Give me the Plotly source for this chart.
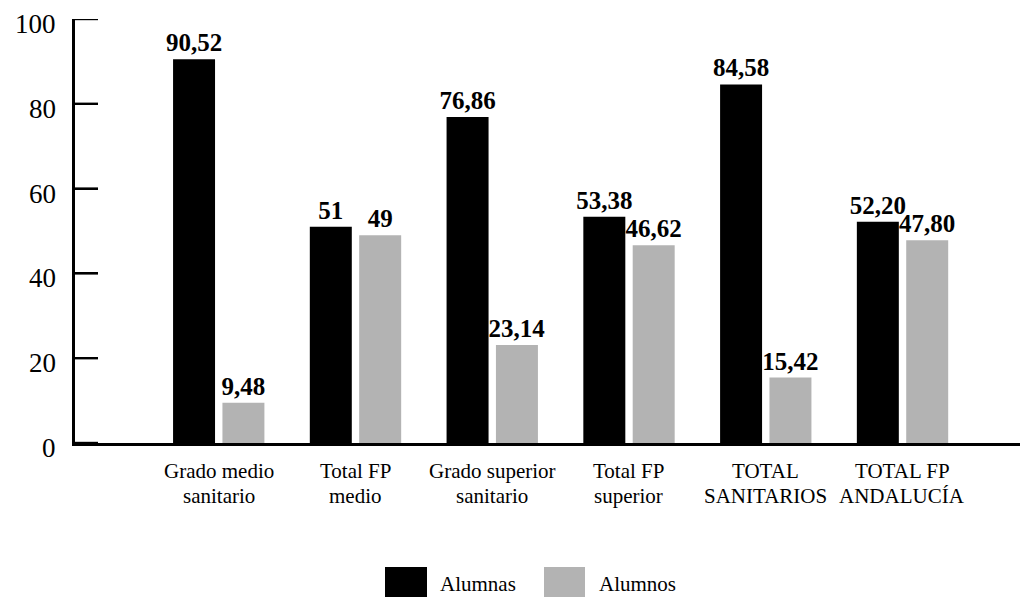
import plotly.graph_objects as go

categories_line1 = ["Grado medio", "Total FP", "Grado superior", "Total FP", "TOTAL", "TOTAL FP"]
categories_line2 = ["sanitario", "medio", "sanitario", "superior", "SANITARIOS", "ANDALUCÍA"]
alumnas = [90.52, 51, 76.86, 53.38, 84.58, 52.20]
alumnos = [9.48, 49, 23.14, 46.62, 15.42, 47.80]
alumnas_labels = ["90,52", "51", "76,86", "53,38", "84,58", "52,20"]
alumnos_labels = ["9,48", "49", "23,14", "46,62", "15,42", "47,80"]
series_names = ["Alumnas", "Alumnos"]
y_ticks = [0, 20, 40, 60, 80, 100]

FONT = "Liberation Serif, Times New Roman, DejaVu Serif, serif"
BLACK = "#000000"
GREY = "#b3b3b3"

xpos = list(range(len(categories_line1)))

fig = go.Figure()
fig.add_trace(go.Bar(
    x=xpos, y=alumnas, name=series_names[0], marker_color=BLACK, marker_line_width=0,
    width=0.307, offset=-0.333, text=alumnas_labels, textposition="outside",
    constraintext="none",
    textfont=dict(family=FONT, size=25, color="black", weight="bold"), cliponaxis=False,
    showlegend=False))
fig.add_trace(go.Bar(
    x=xpos, y=alumnos, name=series_names[1], marker_color=GREY, marker_line_width=0,
    width=0.307, offset=0.028, text=alumnos_labels, textposition="outside",
    constraintext="none",
    textfont=dict(family=FONT, size=25, color="black", weight="bold"), cliponaxis=False,
    showlegend=False))

L, R, T, B = 75, 1020, 19, 443
W, H = R - L, B - T
def px(x):
    return (x - L) / W
def py(y):
    return (B - y) / H

# Y-axis ticks (pointing inward, filled bars) and labels, positioned on the y scale
for t in y_ticks:
    fig.add_shape(type="rect", xref="paper", yref="y", x0=0, x1=px(98),
                  ysizemode="pixel", yanchor=t, y0=-1.2, y1=1.2,
                  fillcolor="black", line_width=0, layer="above")
    fig.add_annotation(xref="paper", yref="y", x=px(58), y=t, yshift=-5, text=str(t),
                       showarrow=False, xanchor="right", yanchor="middle",
                       font=dict(family=FONT, size=27, color="black"))

# Category labels (two lines each)
for i in xpos:
    fig.add_annotation(x=i, xref="x", yref="paper", y=py(471), text=categories_line1[i],
                       showarrow=False, xanchor="center", yanchor="middle",
                       font=dict(family=FONT, size=21, color="black"))
    fig.add_annotation(x=i, xref="x", yref="paper", y=py(496), text=categories_line2[i],
                       showarrow=False, xanchor="center", yanchor="middle",
                       font=dict(family=FONT, size=21, color="black"))

# Custom legend (large swatches)
swatches = [(385, 427, BLACK, 438, series_names[0]), (544, 585, GREY, 597, series_names[1])]
for x0, x1, col, tx, name in swatches:
    fig.add_shape(type="rect", xref="paper", yref="paper", x0=px(x0), x1=px(x1),
                  y0=py(597), y1=py(567), fillcolor=col, line_width=0)
    fig.add_annotation(xref="paper", yref="paper", x=px(tx), y=py(584), text=name,
                       showarrow=False, xanchor="left", yanchor="middle",
                       font=dict(family=FONT, size=21, color="black"))

fig.update_layout(
    width=1025, height=597,
    margin=dict(l=L, r=1025 - R, t=T, b=597 - B, autoexpand=False),
    plot_bgcolor="white", paper_bgcolor="white",
    barmode="overlay",
    font=dict(family=FONT, color="black"),
    xaxis=dict(range=[-1.05, 5.86], tickvals=xpos, showticklabels=False, automargin=False,
               showline=True, linewidth=2.5, linecolor="black", showgrid=False, zeroline=False,
               ticks=""),
    yaxis=dict(range=[0, 100], tickvals=y_ticks, showticklabels=False, automargin=False,
               showline=True, linewidth=2.5, linecolor="black",
               showgrid=False, zeroline=False, ticks="inside", ticklen=23, tickwidth=2,
               tickcolor="black"),
)

fig.write_html("out.html")
